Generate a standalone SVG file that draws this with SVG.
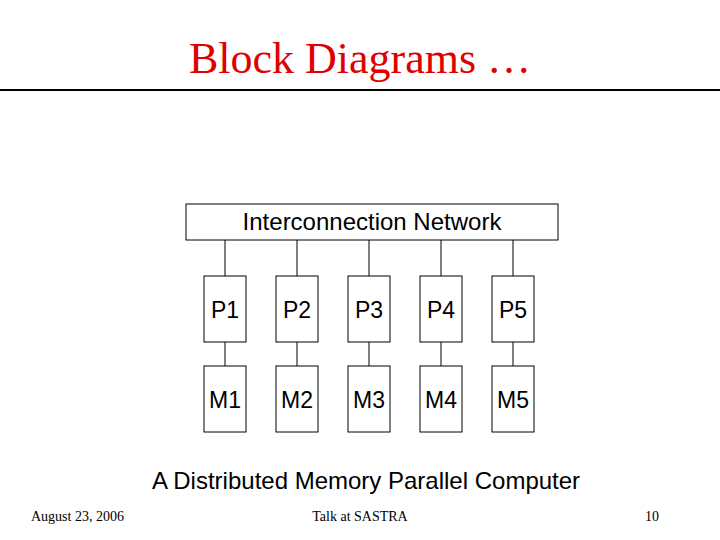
<svg xmlns="http://www.w3.org/2000/svg" width="720" height="540" viewBox="0 0 720 540">
<style>
.b{fill:#fff;stroke:#000;stroke-width:1}
.t{font-family:"Liberation Sans",Arial,sans-serif;font-size:23px;text-anchor:middle}
.l{font-family:"Liberation Sans",Arial,sans-serif;font-size:24px;text-anchor:middle}
.s{font-family:"Liberation Serif","Times New Roman",serif;font-size:14px}
</style>
<rect width="720" height="540" fill="#fff"/>
<text x="360" y="73" text-anchor="middle" font-family="Liberation Serif,serif" font-size="44" fill="#e00000">Block Diagrams …</text>
<line x1="0" y1="90" x2="720" y2="90" stroke="#000" stroke-width="2"/>
<g id="connectors" stroke="#000" stroke-width="1">
<line x1="225" y1="240" x2="225" y2="276"/><line x1="297" y1="240" x2="297" y2="276"/><line x1="369" y1="240" x2="369" y2="276"/><line x1="441" y1="240" x2="441" y2="276"/><line x1="513" y1="240" x2="513" y2="276"/>
<line x1="225" y1="342" x2="225" y2="366"/><line x1="297" y1="342" x2="297" y2="366"/><line x1="369" y1="342" x2="369" y2="366"/><line x1="441" y1="342" x2="441" y2="366"/><line x1="513" y1="342" x2="513" y2="366"/>
</g>
<g id="net"><rect class="b" x="186" y="204" width="372" height="36"/><text class="l" x="372" y="230">Interconnection Network</text></g>
<g id="P1"><rect class="b" x="204" y="276" width="42" height="66"/><text class="t" x="225" y="318">P1</text></g>
<g id="P2"><rect class="b" x="276" y="276" width="42" height="66"/><text class="t" x="297" y="318">P2</text></g>
<g id="P3"><rect class="b" x="348" y="276" width="42" height="66"/><text class="t" x="369" y="318">P3</text></g>
<g id="P4"><rect class="b" x="420" y="276" width="42" height="66"/><text class="t" x="441" y="318">P4</text></g>
<g id="P5"><rect class="b" x="492" y="276" width="42" height="66"/><text class="t" x="513" y="318">P5</text></g>
<g id="M1"><rect class="b" x="204" y="366" width="42" height="66"/><text class="t" x="225" y="408">M1</text></g>
<g id="M2"><rect class="b" x="276" y="366" width="42" height="66"/><text class="t" x="297" y="408">M2</text></g>
<g id="M3"><rect class="b" x="348" y="366" width="42" height="66"/><text class="t" x="369" y="408">M3</text></g>
<g id="M4"><rect class="b" x="420" y="366" width="42" height="66"/><text class="t" x="441" y="408">M4</text></g>
<g id="M5"><rect class="b" x="492" y="366" width="42" height="66"/><text class="t" x="513" y="408">M5</text></g>
<text class="l" x="366" y="489">A Distributed Memory Parallel Computer</text>
<text class="s" x="31" y="521">August 23, 2006</text>
<text class="s" x="360" y="521" text-anchor="middle">Talk at SASTRA</text>
<text class="s" x="645" y="521">10</text>
</svg>
